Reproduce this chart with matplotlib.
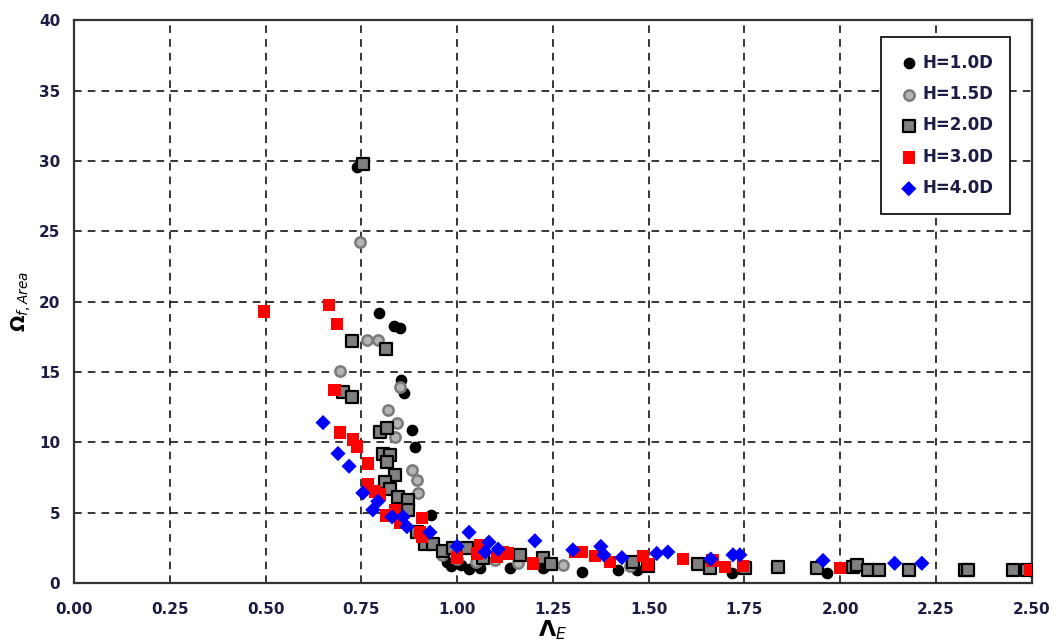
"""Omega_f,Area vs Lambda_E scatter for five embedment depths H."""
import matplotlib
matplotlib.use("Agg")
import matplotlib.pyplot as plt

# values
h10_x = [0.739, 0.796, 0.835, 0.851, 0.853, 0.861, 0.882, 0.890, 0.932, 0.973,
         0.985, 1.010, 1.030, 1.060, 1.138, 1.224, 1.229, 1.326, 1.420, 1.470,
         1.717, 1.965]
h10_y = [29.6, 19.2, 18.3, 18.1, 14.4, 13.5, 10.9, 9.7, 4.8, 1.5,
         1.2, 1.3, 1.0, 1.1, 1.07, 1.07, 1.2, 0.78, 0.92, 0.92,
         0.7, 0.7]

h15_x = [0.746, 0.765, 0.793, 0.694, 0.851, 0.820, 0.843, 0.838, 0.882, 0.895,
         0.898, 0.960, 1.000, 1.050, 1.100, 1.160, 1.276, 1.450]
h15_y = [24.2, 17.3, 17.3, 15.1, 13.9, 12.3, 11.4, 10.4, 8.0, 7.3,
         6.4, 2.0, 1.7, 1.5, 1.6, 1.4, 1.28, 1.2]

h20_x = [0.754, 0.725, 0.814, 0.703, 0.725, 0.799, 0.816, 0.806, 0.825, 0.816,
         0.838, 0.811, 0.825, 0.846, 0.872, 0.872, 0.895, 0.916, 0.937, 0.963,
         0.989, 1.025, 1.067, 1.164, 1.224, 1.244, 1.459, 1.498, 1.628, 1.660,
         1.751, 1.837, 1.939, 2.033, 2.043, 2.072, 2.101, 2.179, 2.325, 2.333,
         2.450, 2.487]
h20_y = [29.8, 17.2, 16.6, 13.6, 13.2, 10.7, 11.0, 9.2, 9.1, 8.6,
         7.7, 7.2, 6.7, 6.1, 5.9, 5.2, 3.6, 2.8, 2.8, 2.3,
         2.5, 2.5, 1.8, 2.0, 1.8, 1.35, 1.5, 1.2, 1.35, 1.07,
         1.07, 1.14, 1.07, 1.14, 1.28, 0.92, 0.92, 0.92, 0.92, 0.92,
         0.92, 0.92]

h30_x = [0.496, 0.665, 0.687, 0.680, 0.694, 0.728, 0.738, 0.767, 0.767, 0.786,
         0.799, 0.816, 0.838, 0.851, 0.908, 0.903, 0.908, 1.000, 1.052, 1.060,
         1.104, 1.120, 1.133, 1.198, 1.307, 1.326, 1.360, 1.399, 1.485, 1.498,
         1.589, 1.667, 1.699, 1.746, 1.999, 2.495]
h30_y = [19.3, 19.75, 18.4, 13.7, 10.7, 10.2, 9.7, 8.5, 7.0, 6.5,
         6.3, 4.8, 5.2, 4.3, 4.6, 3.6, 3.3, 1.8, 2.1, 2.7,
         1.85, 2.2, 2.1, 1.4, 2.2, 2.2, 1.9, 1.5, 1.9, 1.3,
         1.7, 1.6, 1.14, 1.2, 1.07, 0.92]

h40_x = [0.650, 0.689, 0.718, 0.754, 0.793, 0.780, 0.830, 0.859, 0.869, 0.929,
         1.000, 1.031, 1.083, 1.073, 1.107, 1.203, 1.302, 1.375, 1.383, 1.430,
         1.521, 1.550, 1.662, 1.720, 1.738, 1.955, 2.142, 2.213]
h40_y = [11.4, 9.2, 8.3, 6.4, 5.8, 5.2, 4.7, 4.7, 4.0, 3.6,
         2.6, 3.6, 2.9, 2.2, 2.4, 3.0, 2.35, 2.6, 2.0, 1.8,
         2.1, 2.2, 1.7, 2.0, 2.0, 1.6, 1.4, 1.4]

x_ticks = [0.0, 0.25, 0.5, 0.75, 1.0, 1.25, 1.5, 1.75, 2.0, 2.25, 2.5]
y_ticks = [0, 5, 10, 15, 20, 25, 30, 35, 40]

TXT = "#1c1c44"

fig = plt.figure(figsize=(10.56, 6.41), dpi=100)
ax = fig.add_axes([0.0701, 0.0905, 0.907, 0.878])

ax.scatter(h10_x, h10_y, s=55, marker="o", c="black", edgecolors="black",
           linewidths=1, label="H=1.0D", zorder=3)
ax.scatter(h15_x, h15_y, s=55, marker="o", c="#b4b4b4", edgecolors="#7a7a7a",
           linewidths=1.8, label="H=1.5D", zorder=3)
ax.scatter(h20_x, h20_y, s=70, marker="s", c="#808080", edgecolors="black",
           linewidths=1.6, label="H=2.0D", zorder=3)
ax.scatter(h30_x, h30_y, s=80, marker="s", c="#ff0000", edgecolors="none",
           label="H=3.0D", zorder=3)
ax.scatter(h40_x, h40_y, s=60, marker="D", c="#0000ff", edgecolors="none",
           label="H=4.0D", zorder=3)

ax.set_xlim(0, 2.5)
ax.set_ylim(0, 40)
ax.set_xticks(x_ticks)
ax.set_xticklabels([f"{v:.2f}" for v in x_ticks])
ax.set_yticks(y_ticks)
ax.tick_params(length=0, labelsize=11, labelcolor=TXT)
ax.tick_params(axis="x", pad=14)
ax.tick_params(axis="y", pad=10)
for lab in ax.get_xticklabels() + ax.get_yticklabels():
    lab.set_fontweight("bold")

ax.grid(True, color="black", ls=(0, (5, 4)), lw=1.1, zorder=1)
for sp in ax.spines.values():
    sp.set_linewidth(1.6)
    sp.set_color("#333333")

ax.set_xlabel(r"$\mathbf{\Lambda}_{E}$", fontsize=16, labelpad=1)
ax.set_ylabel(r"$\mathbf{\Omega}_{f,Area}$", fontsize=14, labelpad=4)

leg = ax.legend(loc="upper right", bbox_to_anchor=(0.977, 0.97), fancybox=False,
                edgecolor="black", framealpha=1, handletextpad=0.15,
                labelspacing=0.8, borderpad=1.0, handlelength=1.3,
                borderaxespad=0,
                prop={"weight": "bold", "size": 12})
leg.get_frame().set_linewidth(1.2)
for t in leg.get_texts():
    t.set_color(TXT)

fig.savefig("out.png", dpi=100)
plt.close(fig)
